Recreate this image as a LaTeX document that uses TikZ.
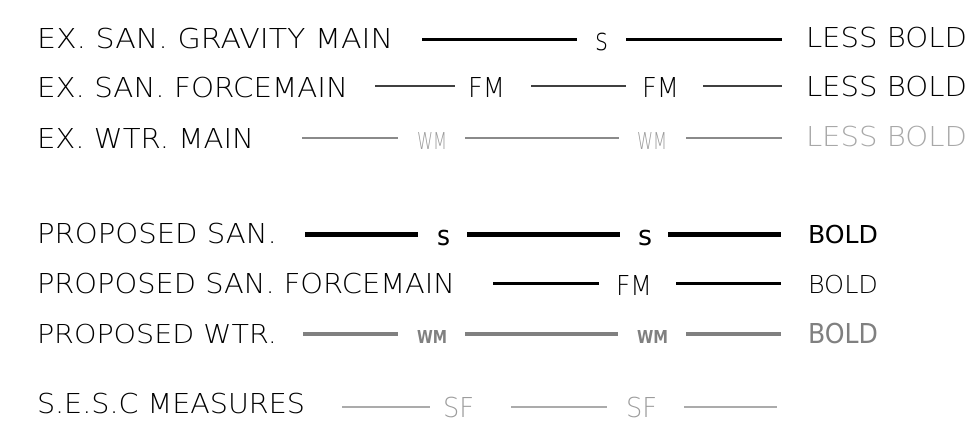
\documentclass[tikz,border=0pt]{standalone}
\usepackage{fontspec}
\usepackage{graphicx}
\newfontfamily\cadthin{DejaVu Sans ExtraLight}
\newfontfamily\cadreg{DejaVu Sans}
\newfontfamily\cadbold{DejaVu Sans Bold}
% #1 target width, #2 target cap height (pt), #3 text
\newcommand\capfit[3]{\resizebox{#1pt}{\height}{\fontsize{\fpeval{#2/0.729}}{\fpeval{#2*1.5}}\selectfont #3}}
% same for lowercase letters (x-height)
\newcommand\xfit[3]{\resizebox{#1pt}{\height}{\fontsize{\fpeval{#2/0.547}}{\fpeval{#2*2}}\selectfont #3}}
\definecolor{exwtr}{HTML}{8A8A8A}
\definecolor{exwtrtxt}{HTML}{9A9A9A}
\definecolor{exwtrless}{HTML}{A8A8A8}
\definecolor{prwtr}{HTML}{808080}
\definecolor{sesc}{HTML}{ABABAB}
\definecolor{sesctxt}{HTML}{9C9C9C}
\definecolor{exfm}{HTML}{404040}
\tikzset{
  lbl/.style={inner sep=0pt, outer sep=0pt, anchor=base west},
  exsan/.style={line width=3pt, black},
  exfmline/.style={line width=1.5pt, exfm},
  exwtrline/.style={line width=2.2pt, exwtr},
  prsan/.style={line width=5pt, black},
  prfm/.style={line width=3pt, black},
  prwtrline/.style={line width=4.5pt, prwtr},
  sescline/.style={line width=1.5pt, sesc}
}
\begin{document}
\begin{tikzpicture}[x=1pt,y=-1pt]
\useasboundingbox (0,0) rectangle (968,429);
% ---------- Row 1 ----------
\node[lbl] (t1) at (37,48) {\capfit{356}{20}{\cadthin EX. SAN. GRAVITY MAIN}};
\node[lbl] (s1a) at (595,50) {\xfit{13}{17}{\cadthin s}};
\node[lbl] (lb1) at (806,47) {\capfit{161}{20}{\cadthin LESS BOLD}};
\coordinate (r1a) at (422,39); \coordinate (r1b) at (577,39);
\coordinate (r1c) at (626,39); \coordinate (r1d) at (782,39);
\draw[exsan] (r1a) -- (r1b);
\draw[exsan] (r1c) -- (r1d);
% ---------- Row 2 ----------
\node[lbl] (t2) at (37,97) {\capfit{311}{20}{\cadthin EX. SAN. FORCEMAIN}};
\node[lbl] (fm2a) at (468,97) {\capfit{37}{20}{\cadthin FM}};
\node[lbl] (fm2b) at (642,97) {\capfit{37}{20}{\cadthin FM}};
\node[lbl] (lb2) at (806,96) {\capfit{161}{20}{\cadthin LESS BOLD}};
\coordinate (r2a) at (375,86); \coordinate (r2b) at (455,86);
\coordinate (r2c) at (531,86); \coordinate (r2d) at (626,86);
\coordinate (r2e) at (703,86); \coordinate (r2f) at (782,86);
\draw[exfmline] (r2a) -- (r2b);
\draw[exfmline] (r2c) -- (r2d);
\draw[exfmline] (r2e) -- (r2f);
% ---------- Row 3 ----------
\node[lbl] (t3) at (37,148) {\capfit{217}{20}{\cadthin EX. WTR. MAIN}};
\node[lbl, text=exwtrtxt] (wm3a) at (417,149.5) {\capfit{30}{17}{\cadthin WM}};
\node[lbl, text=exwtrtxt] (wm3b) at (637,149.5) {\capfit{30}{17}{\cadthin WM}};
\node[lbl, text=exwtrless] (lb3) at (806,146.5) {\capfit{161}{20}{\cadthin LESS BOLD}};
\coordinate (r3a) at (302,138); \coordinate (r3b) at (398,138);
\coordinate (r3c) at (465,138); \coordinate (r3d) at (619,138);
\coordinate (r3e) at (686,138); \coordinate (r3f) at (782,138);
\draw[exwtrline] (r3a) -- (r3b);
\draw[exwtrline] (r3c) -- (r3d);
\draw[exwtrline] (r3e) -- (r3f);
% ---------- Row 4 ----------
\node[lbl] (t4) at (37,243) {\capfit{240}{20}{\cadthin PROPOSED SAN.}};
\node[lbl] (s4a) at (437,245) {\xfit{13}{15}{\cadreg s}};
\node[lbl] (s4b) at (638,245) {\xfit{14}{15}{\cadreg s}};
\node[lbl] (b4) at (808,243) {\capfit{70}{18}{\cadreg BOLD}};
\coordinate (r4a) at (305,234.5); \coordinate (r4b) at (418,234.5);
\coordinate (r4c) at (467,234.5); \coordinate (r4d) at (620,234.5);
\coordinate (r4e) at (668,234.5); \coordinate (r4f) at (781,234.5);
\draw[prsan] (r4a) -- (r4b);
\draw[prsan] (r4c) -- (r4d);
\draw[prsan] (r4e) -- (r4f);
% ---------- Row 5 ----------
\node[lbl] (t5) at (37,293) {\capfit{418}{20}{\cadthin PROPOSED SAN. FORCEMAIN}};
\node[lbl] (fm5) at (616,295) {\capfit{36}{20}{\cadthin FM}};
\node[lbl] (b5) at (808,293) {\capfit{70}{18}{\cadthin BOLD}};
\coordinate (r5a) at (493,283); \coordinate (r5b) at (599,283);
\coordinate (r5c) at (676,283); \coordinate (r5d) at (781,283);
\draw[prfm] (r5a) -- (r5b);
\draw[prfm] (r5c) -- (r5d);
% ---------- Row 6 ----------
\node[lbl] (t6) at (37,343) {\capfit{240}{19}{\cadthin PROPOSED WTR.}};
\node[lbl, text=prwtr] (wm6a) at (417,343.5) {\capfit{30}{13}{\cadbold WM}};
\node[lbl, text=prwtr] (wm6b) at (637,343.5) {\capfit{31}{13}{\cadbold WM}};
\node[lbl, text=prwtr] (b6) at (808,343) {\capfit{70}{20}{\cadreg BOLD}};
\coordinate (r6a) at (303,334); \coordinate (r6b) at (398,334);
\coordinate (r6c) at (465,334); \coordinate (r6d) at (618,334);
\coordinate (r6e) at (686,334); \coordinate (r6f) at (781,334);
\draw[prwtrline] (r6a) -- (r6b);
\draw[prwtrline] (r6c) -- (r6d);
\draw[prwtrline] (r6e) -- (r6f);
% ---------- Row 7 ----------
\node[lbl] (t7) at (37,413) {\capfit{268}{20}{\cadthin S.E.S.C MEASURES}};
\node[lbl, text=sesctxt] (sf7a) at (443,417) {\capfit{31}{20}{\cadthin SF}};
\node[lbl, text=sesctxt] (sf7b) at (626,417) {\capfit{31}{20}{\cadthin SF}};
\coordinate (r7a) at (342,407); \coordinate (r7b) at (430,407);
\coordinate (r7c) at (511,407); \coordinate (r7d) at (607,407);
\coordinate (r7e) at (684,407); \coordinate (r7f) at (777,407);
\draw[sescline] (r7a) -- (r7b);
\draw[sescline] (r7c) -- (r7d);
\draw[sescline] (r7e) -- (r7f);
\end{tikzpicture}
\end{document}
